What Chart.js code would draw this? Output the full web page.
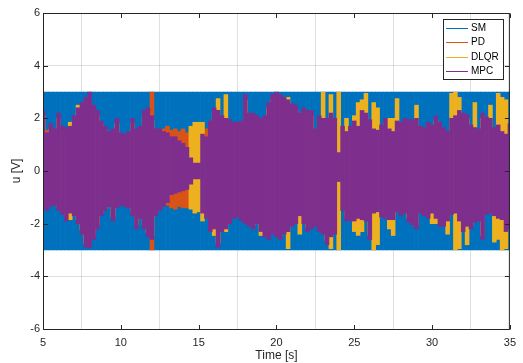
<!DOCTYPE html>
<html>
<head>
<meta charset="utf-8">
<script src="https://cdn.jsdelivr.net/npm/chart.js@4/dist/chart.umd.min.js"></script>
<style>
  html, body { margin: 0; padding: 0; background: #fff; }
  #wrap { width: 523px; height: 363px; }
</style>
</head>
<body>
<div id="wrap"><canvas id="chart" width="523" height="363"></canvas></div>
<script>
// sample times [s], one bar every 0.25 s
const times = [
  5, 5.25, 5.5, 5.75, 6, 6.25, 6.5, 6.75, 7, 7.25, 7.5, 7.75, 8, 8.25, 8.5, 8.75, 9, 9.25, 9.5, 9.75,
  10, 10.25, 10.5, 10.75, 11, 11.25, 11.5, 11.75, 12, 12.25, 12.5, 12.75, 13, 13.25, 13.5, 13.75, 14, 14.25, 14.5, 14.75,
  15, 15.25, 15.5, 15.75, 16, 16.25, 16.5, 16.75, 17, 17.25, 17.5, 17.75, 18, 18.25, 18.5, 18.75, 19, 19.25, 19.5, 19.75,
  20, 20.25, 20.5, 20.75, 21, 21.25, 21.5, 21.75, 22, 22.25, 22.5, 22.75, 23, 23.25, 23.5, 23.75, 24, 24.25, 24.5, 24.75,
  25, 25.25, 25.5, 25.75, 26, 26.25, 26.5, 26.75, 27, 27.25, 27.5, 27.75, 28, 28.25, 28.5, 28.75, 29, 29.25, 29.5, 29.75,
  30, 30.25, 30.5, 30.75, 31, 31.25, 31.5, 31.75, 32, 32.25, 32.5, 32.75, 33, 33.25, 33.5, 33.75, 34, 34.25, 34.5, 34.75,
  35
];

// upper / lower envelope of u [V] for each controller
const smHi = [
  3,3,3,3,3,3,3,3,3,3,3,3,3,3,3,3,3,3,3,3,
  3,3,3,3,3,3,3,3,3,3,3,3,3,3,3,3,3,3,3,3,
  3,3,3,3,3,3,3,3,3,3,3,3,3,3,3,3,3,3,3,3,
  3,3,3,3,3,3,3,3,3,3,3,3,3,3,3,3,3,3,3,3,
  3,3,3,3,3,3,3,3,3,3,3,3,3,3,3,3,3,3,3,3,
  3,3,3,3,3,3,3,3,3,3,3,3,3,3,3,3,3,3,3,3,
  3
];
const smLo = [
  -3,-3,-3,-3,-3,-3,-3,-3,-3,-3,-3,-3,-3,-3,-3,-3,-3,-3,-3,-3,
  -3,-3,-3,-3,-3,-3,-3,-3,-3,-3,-3,-3,-3,-3,-3,-3,-3,-3,-3,-3,
  -3,-3,-3,-3,-3,-3,-3,-3,-3,-3,-3,-3,-3,-3,-3,-3,-3,-3,-3,-3,
  -3,-3,-3,-3,-3,-3,-3,-3,-3,-3,-3,-3,-3,-3,-3,-3,-3,-3,-3,-3,
  -3,-3,-3,-3,-3,-3,-3,-3,-3,-3,-3,-3,-3,-3,-3,-3,-3,-3,-3,-3,
  -3,-3,-3,-3,-3,-3,-3,-3,-3,-3,-3,-3,-3,-3,-3,-3,-3,-3,-3,-3,
  -3
];
const pdHi = [
  2.0,1.55,1.55,1.4,1.95,1.5,1.45,1.5,1.9,2.2,2.4,2.6,2.8,2.3,2.1,1.7,1.5,1.3,1.4,1.8,
  1.25,1.2,1.3,1.8,1.4,1.5,2.1,2.2,3.0,1.4,1.4,1.6,1.7,1.55,1.6,1.5,1.6,1.45,1.5,1.5,
  1.5,1.5,1.6,1.7,2.2,2.1,1.9,1.8,1.75,1.65,1.65,1.7,2.7,2.0,2.0,1.9,1.8,1.9,2.4,2.7,
  2.8,2.7,2.6,2.5,2.35,2.3,2.0,2.2,2.1,2.1,1.4,1.9,1.8,1.8,2.0,1.8,0.5,1.5,1.3,1.5,
  1.7,1.5,2.1,2.0,1.75,1.4,1.35,1.55,1.8,1.4,1.3,1.7,1.65,1.8,1.75,1.75,1.8,1.5,1.45,1.65,
  1.55,1.9,1.65,1.45,1.3,1.8,1.9,2.1,2.0,1.95,1.55,1.45,1.4,2.0,1.85,1.8,1.45,1.55,1.3,1.2,
  1.6
];
const pdLo = [
  -1.2,-1.3,-1.15,-1.1,-1.3,-1.45,-1.7,-1.4,-1.5,-1.8,-2.2,-2.7,-2.7,-2.4,-2.0,-1.5,-1.3,-1.15,-1.7,-1.2,
  -1.1,-1.15,-1.2,-1.5,-2.0,-1.6,-2.0,-2.3,-3.0,-1.5,-1.3,-1.3,-1.3,-1.4,-1.45,-1.35,-1.4,-1.4,-1.3,-1.4,
  -1.4,-1.4,-1.6,-2.1,-2.0,-2.7,-2.1,-2.0,-1.8,-1.6,-1.55,-1.7,-1.8,-1.9,-2.0,-1.8,-2.1,-2.3,-2.4,-2.2,
  -2.3,-2.4,-2.2,-2.1,-1.9,-1.8,-1.5,-1.8,-2.1,-2.0,-1.9,-2.1,-2.2,-2.6,-2.3,-2.2,-0.3,-1.3,-1.7,-1.7,
  -1.7,-1.6,-1.65,-1.7,-2.4,-1.4,-1.35,-1.55,-1.6,-1.65,-1.65,-1.35,-1.5,-1.4,-1.75,-1.85,-2.0,-1.4,-1.5,-1.6,
  -1.4,-1.6,-1.9,-1.9,-1.7,-1.45,-1.4,-1.7,-2.1,-1.9,-2.0,-1.75,-1.7,-2.4,-1.45,-1.4,-1.5,-1.6,-1.65,-2.1,
  -2.0
];
const dlqrHi = [
  2.1,1.3,1.6,1.45,2.0,1.55,1.5,1.85,1.9,2.5,2.4,2.6,2.8,2.3,2.1,1.75,1.55,1.35,1.45,1.8,
  1.3,1.25,1.35,1.8,1.45,1.55,2.1,2.2,1.9,1.45,1.45,1.35,1.3,1.15,1.15,1.0,0.9,0.8,1.7,1.85,
  1.85,1.85,1.2,1.7,2.2,2.75,1.9,2.9,1.8,1.7,1.7,1.75,2.7,2.0,2.0,1.9,1.85,1.9,2.4,2.7,
  2.8,2.7,2.6,2.8,2.4,2.3,2.0,2.2,2.1,2.1,1.45,1.9,3.0,1.85,2.9,1.85,3.0,1.55,2.0,1.55,
  2.1,2.6,2.7,2.95,1.8,2.6,2.4,1.6,1.85,2.0,2.0,2.75,1.7,1.85,1.8,1.8,2.5,1.55,1.5,1.7,
  1.6,1.9,1.7,1.5,1.35,2.95,3.0,2.8,2.0,2.0,1.6,2.6,1.45,2.0,1.9,2.5,1.5,2.95,2.8,2.7,
  1.65
];
const dlqrLo = [
  -1.25,-1.35,-1.2,-1.15,-1.35,-1.5,-1.75,-1.85,-1.55,-1.85,-2.25,-2.75,-2.75,-2.45,-2.05,-1.55,-1.45,-1.2,-1.75,-1.25,
  -1.15,-1.2,-1.25,-1.55,-2.05,-1.65,-2.05,-2.35,-2.45,-1.55,-1.35,-1.2,-1.05,-0.8,-0.75,-0.7,-0.65,-0.6,-1.45,-1.6,
  -1.55,-1.9,-1.65,-2.15,-2.45,-2.75,-2.15,-2.3,-1.85,-1.65,-1.6,-1.75,-1.85,-1.95,-2.05,-1.85,-2.45,-2.35,-2.45,-2.25,
  -2.35,-2.45,-2.25,-2.95,-1.95,-1.85,-2.4,-1.85,-2.15,-2.05,-1.95,-2.15,-2.25,-2.65,-2.95,-2.25,-3.0,-1.35,-1.75,-1.75,
  -2.3,-2.45,-2.3,-1.75,-2.45,-3.0,-2.8,-1.6,-1.65,-2.2,-2.45,-1.4,-1.55,-1.45,-1.8,-1.9,-2.05,-1.45,-1.55,-1.65,
  -2.0,-2.0,-1.95,-1.95,-2.4,-1.5,-3.0,-2.95,-2.15,-2.8,-2.05,-1.8,-1.75,-2.45,-1.5,-1.45,-2.7,-2.6,-3.0,-2.95,
  -2.05
];
const mpcHi = [
  2.3,1.45,1.8,1.6,2.2,1.7,1.65,1.7,2.1,2.4,2.6,2.8,3.0,2.5,2.3,1.9,1.7,1.5,1.6,2.0,
  1.45,1.4,1.5,2.0,1.6,1.7,2.3,2.4,2.1,1.6,1.6,1.5,1.45,1.3,1.3,1.15,1.05,0.9,0.5,0.3,
  0.3,1.4,1.3,1.9,2.4,2.3,2.1,2.0,1.95,1.85,1.85,1.9,2.9,2.2,2.2,2.1,2.0,2.1,2.6,2.9,
  3.0,2.9,2.8,2.7,2.55,2.5,2.2,2.4,2.3,2.3,1.6,2.1,2.0,2.0,2.2,2.0,0.7,1.7,1.5,1.7,
  1.9,1.7,2.3,2.2,1.95,1.6,1.55,1.75,2.0,1.6,1.5,1.9,1.85,2.0,1.95,1.95,2.0,1.7,1.65,1.85,
  1.75,2.1,1.85,1.65,1.5,2.0,2.1,2.3,2.2,2.15,1.75,1.65,1.6,2.2,2.05,2.0,1.65,1.75,1.5,1.4,
  1.8
];
const mpcLo = [
  -1.4,-1.5,-1.35,-1.3,-1.5,-1.65,-1.9,-1.6,-1.7,-2.0,-2.4,-2.9,-2.9,-2.6,-2.2,-1.7,-1.5,-1.35,-1.9,-1.4,
  -1.3,-1.35,-1.4,-1.7,-2.2,-1.8,-2.2,-2.5,-2.6,-1.7,-1.5,-1.35,-1.2,-0.9,-0.85,-0.8,-0.75,-0.7,-0.5,-0.3,
  -0.3,-1.6,-1.8,-2.3,-2.2,-2.9,-2.3,-2.2,-2.0,-1.8,-1.75,-1.9,-2.0,-2.1,-2.2,-2.0,-2.3,-2.5,-2.6,-2.4,
  -2.5,-2.6,-2.4,-2.3,-2.1,-2.0,-1.7,-2.0,-2.3,-2.2,-2.1,-2.3,-2.4,-2.8,-2.5,-2.4,-0.4,-1.5,-1.9,-1.9,
  -1.9,-1.8,-1.85,-1.9,-2.6,-1.6,-1.55,-1.75,-1.8,-1.85,-1.85,-1.55,-1.7,-1.6,-1.95,-2.05,-2.2,-1.6,-1.7,-1.8,
  -1.6,-1.8,-2.1,-2.1,-1.9,-1.65,-1.6,-1.9,-2.3,-2.1,-2.2,-1.95,-1.9,-2.6,-1.65,-1.6,-1.7,-1.8,-1.85,-2.3,
  -2.2
];

const xTicks = [5, 10, 15, 20, 25, 30, 35];
const yTicks = [-6, -4, -2, 0, 2, 4, 6];

const FONT = '"Liberation Sans", Arial, Helvetica, sans-serif';
const AXIS = '#262626';

function band(lo, hi) {
  return times.map((t, i) => ({ x: t, y: [lo[i], hi[i]] }));
}

function series(label, lo, hi, color, order) {
  return {
    label: label,
    data: band(lo, hi),
    backgroundColor: color,
    borderWidth: 0,
    barPercentage: 1,
    categoryPercentage: 1,
    grouped: false,
    order: order
  };
}

// MATLAB-like box, inward ticks and legend
const boxPlugin = {
  id: 'box',
  afterDatasetsDraw(chart) {
    const { ctx, chartArea: a, scales } = chart;
    const L = a.left + 0.5, R = a.right - 0.5, T = a.top + 0.5, B = a.bottom + 0.5;
    ctx.save();
    ctx.strokeStyle = AXIS;
    ctx.lineWidth = 1;
    ctx.strokeRect(L, T, R - L, B - T);
    ctx.beginPath();
    xTicks.forEach(v => {
      const px = Math.round(scales.x.getPixelForValue(v)) + 0.5;
      ctx.moveTo(px, B); ctx.lineTo(px, B - 4.5);
      ctx.moveTo(px, T); ctx.lineTo(px, T + 4.5);
    });
    yTicks.forEach(v => {
      const py = Math.round(scales.y.getPixelForValue(v)) + 0.5;
      ctx.moveTo(L, py); ctx.lineTo(L + 4.5, py);
      ctx.moveTo(R, py); ctx.lineTo(R - 4.5, py);
    });
    ctx.stroke();
    ctx.restore();
  },
  afterDraw(chart) {
    const ctx = chart.ctx;
    const names = ['SM', 'PD', 'DLQR', 'MPC'];
    const rows = [28, 42, 57, 71];
    ctx.save();
    ctx.fillStyle = '#fff';
    ctx.fillRect(443.5, 19.5, 60, 60);
    ctx.strokeStyle = AXIS;
    ctx.lineWidth = 1;
    ctx.strokeRect(443.5, 19.5, 60, 60);
    ctx.font = '10px ' + FONT;
    ctx.textBaseline = 'middle';
    names.forEach((n, i) => {
      const ds = chart.data.datasets.find(d => d.label === n);
      ctx.strokeStyle = ds.backgroundColor;
      ctx.beginPath();
      ctx.moveTo(446, rows[i] + 0.5);
      ctx.lineTo(468, rows[i] + 0.5);
      ctx.stroke();
      ctx.fillStyle = '#000';
      ctx.fillText(n, 471, rows[i] + 0.5);
    });
    ctx.restore();
  }
};

new Chart(document.getElementById('chart'), {
  type: 'bar',
  data: {
    datasets: [
      series('SM', smLo, smHi, '#0072BD', 4),
      series('PD', pdLo, pdHi, '#D95319', 3),
      series('DLQR', dlqrLo, dlqrHi, '#EDB120', 2),
      series('MPC', mpcLo, mpcHi, '#7E2F8E', 1)
    ]
  },
  options: {
    responsive: false,
    animation: false,
    devicePixelRatio: 1,
    layout: { padding: { top: 13, right: 13, left: 0, bottom: 0 } },
    plugins: { legend: { display: false }, tooltip: { enabled: false } },
    scales: {
      x: {
        type: 'linear', min: 5, max: 35, offset: false,
        afterFit: s => { s.height = 34; },
        afterBuildTicks: s => { s.ticks = xTicks.map(v => ({ value: v })); },
        ticks: { padding: 7, color: AXIS, font: { family: FONT, size: 11 }, maxRotation: 0 },
        grid: { color: 'rgba(38,38,38,0.15)', drawTicks: false },
        border: { display: false },
        title: { display: true, text: 'Time [s]', color: AXIS, font: { family: FONT, size: 12 }, padding: { top: 0, bottom: 0 } }
      },
      y: {
        type: 'linear', min: -6, max: 6,
        afterFit: s => { s.width = 43; },
        afterBuildTicks: s => { s.ticks = yTicks.map(v => ({ value: v })); },
        ticks: { padding: 3, color: AXIS, font: { family: FONT, size: 11 } },
        grid: { color: 'rgba(38,38,38,0.15)', drawTicks: false },
        border: { display: false },
        title: { display: true, text: 'u [V]', color: AXIS, font: { family: FONT, size: 12 }, padding: { top: 9, bottom: 0 } }
      }
    }
  },
  plugins: [boxPlugin]
});
</script>
</body>
</html>
